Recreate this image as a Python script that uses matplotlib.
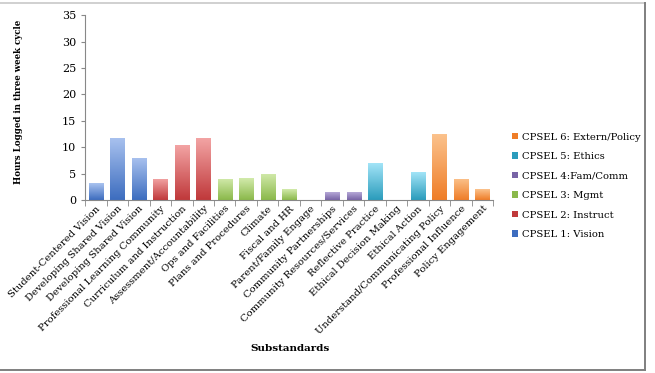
"""Horas registradas por subestándar CPSEL en un ciclo de tres semanas."""
import matplotlib
matplotlib.use("Agg")
import matplotlib.pyplot as plt
import numpy as np
from matplotlib.colors import LinearSegmentedColormap
from matplotlib.lines import Line2D
from matplotlib.patches import Patch

substandards = [
    "Student-Centered Vision", "Developing Shared Vision", "Developing Shared Vision",
    "Professional Learning Community", "Curriculum and Instruction", "Assessment/Accountability",
    "Ops and Facilities", "Plans and Procedures", "Climate", "Fiscal and HR",
    "Parent/Family Engage", "Community Partnerships", "Community Resources/Services",
    "Reflective Practice", "Ethical Decision Making", "Ethical Action",
    "Understand/Communicating Policy", "Professional Influence", "Policy Engagement",
]
hours = [3.2, 11.8, 8.0, 4.0, 10.5, 11.8, 4.0, 4.1, 5.0, 2.0,
         0.0, 1.5, 1.5, 7.0, 0.0, 5.2, 12.5, 4.0, 2.0]
group = [1, 1, 1, 2, 2, 2, 3, 3, 3, 3, 4, 4, 4, 5, 5, 5, 6, 6, 6]

group_names = {1: "CPSEL 1: Vision", 2: "CPSEL 2: Instruct", 3: "CPSEL 3: Mgmt",
               4: "CPSEL 4:Fam/Comm", 5: "CPSEL 5: Ethics", 6: "CPSEL 6: Extern/Policy"}
# (claro arriba, oscuro abajo)
group_colors = {1: ("#a9c2ef", "#3d6dbf"), 2: ("#f3a5a5", "#c0393b"),
                3: ("#d2eaab", "#8bb94b"), 4: ("#b5a8d6", "#7864a6"),
                5: ("#a2e4f7", "#2b9cbc"), 6: ("#fbc28c", "#ef7d28")}

plt.rcParams["font.family"] = ["DejaVu Serif"]

fig = plt.figure(figsize=(6.55, 3.73), dpi=100)
ax = fig.add_axes([0.13, 0.464, 0.623, 0.495])

x = np.arange(len(hours))
width = 0.66
bars = ax.bar(x, hours, width=width, color="none", edgecolor="none")
grad = np.linspace(0, 1, 64).reshape(-1, 1)
for b, g in zip(bars, group):
    h = b.get_height()
    if h <= 0:
        continue
    cmap = LinearSegmentedColormap.from_list("g", [group_colors[g][1], group_colors[g][0]])
    im = ax.imshow(grad, cmap=cmap, aspect="auto", origin="lower",
                   extent=(b.get_x(), b.get_x() + b.get_width(), 0, h), zorder=2)
    im.set_clip_path(b)

ax.set_xlim(-0.5, len(hours) - 0.5)
ax.set_ylim(0, 35)
ax.set_yticks(range(0, 36, 5))
ax.set_xticks(x)
ax.set_xticklabels(substandards, rotation=45, ha="right", rotation_mode="anchor", fontsize=7.2)
ax.set_xticks(np.arange(-0.5, len(hours)), minor=True)
ax.tick_params(axis="x", which="major", length=0, pad=3)
ax.tick_params(axis="x", which="minor", length=4, color="#888888")
ax.tick_params(axis="y", length=3, color="#888888", labelsize=8)
for s in ("top", "right"):
    ax.spines[s].set_visible(False)
for s in ("left", "bottom"):
    ax.spines[s].set_color("#888888")

ax.set_ylabel("Hours Logged in three week cycle", fontsize=6.2, fontweight="bold")
ax.yaxis.set_label_coords(-0.153, 0.53)
fig.text(0.443, 0.06, "Substandards", fontsize=7.5, fontweight="bold", ha="center")

handles = [Patch(facecolor=group_colors[g][1], label=group_names[g]) for g in range(6, 0, -1)]
fig.legend(handles=handles, loc="upper left", bbox_to_anchor=(0.776, 0.655), frameon=False,
           fontsize=7.2, handlelength=0.6, handleheight=0.6, handletextpad=0.4,
           labelspacing=1.05, borderaxespad=0)

# marco de la figura: arriba claro, derecha y abajo más oscuros (sin borde izquierdo)
W, H = 655.0, 373.0
fig.add_artist(Line2D([0, 645 / W], [1 - 2.5 / H] * 2, transform=fig.transFigure,
                      color="#c8c8c8", linewidth=1.2))
fig.add_artist(Line2D([645 / W] * 2, [1 - 2.5 / H, 1 - 370 / H], transform=fig.transFigure,
                      color="#7f7f7f", linewidth=1.4))
fig.add_artist(Line2D([0, 645 / W], [1 - 370 / H] * 2, transform=fig.transFigure,
                      color="#7f7f7f", linewidth=1.4))

fig.savefig("out.png")
